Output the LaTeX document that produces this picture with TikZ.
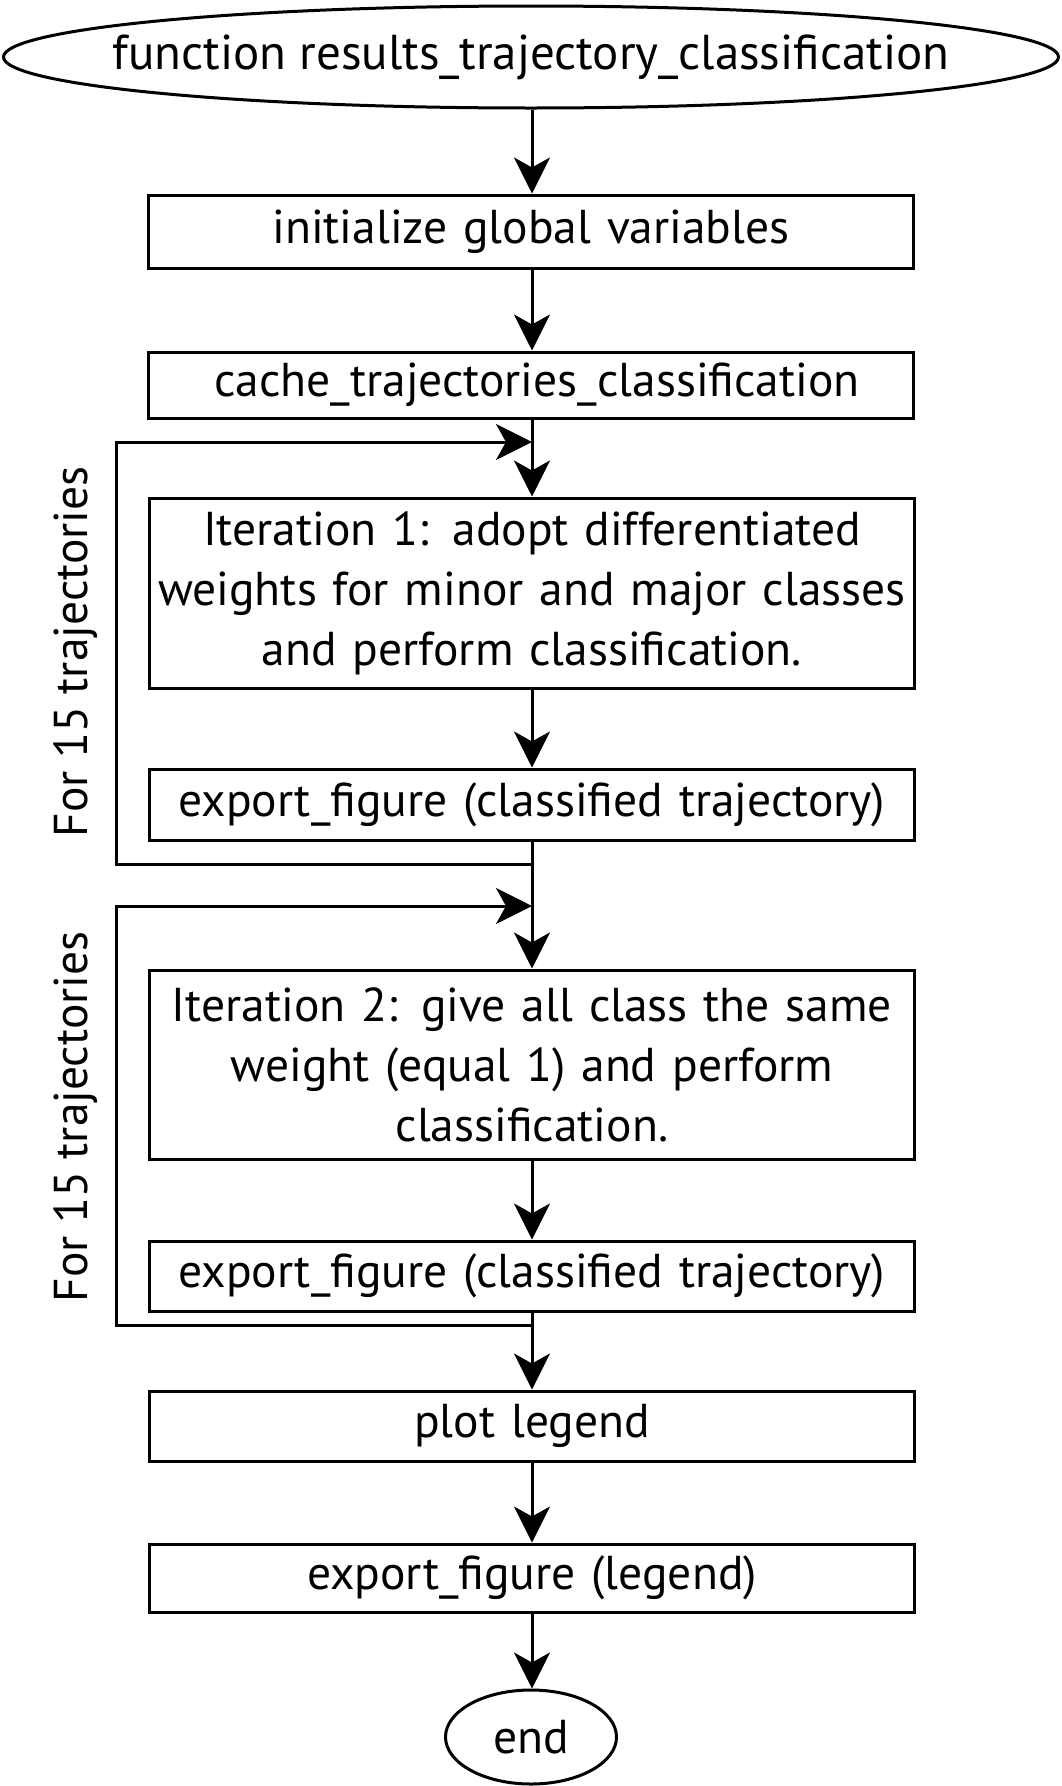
\documentclass[tikz,border=0pt]{standalone}
\usepackage{fontspec}
\setmainfont{PT Sans}
\usetikzlibrary{shapes.geometric,arrows.meta}
\begin{document}
\begin{tikzpicture}[x=1pt,y=-1pt,
  every node/.style={font=\fontsize{47.5}{60}\selectfont},
  box/.style={draw,line width=3pt,rectangle,minimum width=765pt,inner sep=0pt,align=center,text width=755pt},
  oval/.style={draw,line width=3pt,ellipse,inner sep=0pt},
  arr/.style={line width=3pt,-{Stealth[length=36pt,width=36pt,inset=10pt]}},
  ln/.style={line width=3pt}]
\useasboundingbox (0,0) rectangle (1061,1786);
\node[oval,minimum width=1055pt,minimum height=102pt,font=\fontsize{49}{60}\selectfont] (start) at (531,57) {\makebox[0pt]{function results\_trajectory\_classification}};
\node[box,minimum height=73pt] (b1) at (531,231.5) {initialize global variables};
\node[box,minimum height=66pt] (b2) at (531,385) {\hspace*{12pt}cache\_trajectories\_classification};
\node[box,minimum height=190pt] (b3) at (532,593) {Iteration 1: adopt differentiated\\weights for minor and major classes\\and perform classification.};
\node[box,minimum height=71pt] (b4) at (532,804.5) {export\_figure (classified trajectory)};
\node[box,minimum height=189pt] (b5) at (532,1064.5) {Iteration 2: give all class the same\\weight (equal 1) and perform\\classification.};
\node[box,minimum height=70pt] (b6) at (532,1276) {export\_figure (classified trajectory)};
\node[box,minimum height=70pt] (b7) at (532,1426) {plot legend};
\node[box,minimum height=68pt] (b8) at (532,1578) {export\_figure (legend)};
\node[oval,minimum width=171pt,minimum height=94pt] (end) at (531,1737) {\makebox[0pt]{end}};
\node[rotate=90] (lab1) at (76,652) {For 15 trajectories};
\node[rotate=90] (lab2) at (76,1117) {For 15 trajectories};
\coordinate (j1) at (532,442);
\coordinate (j1l) at (116,442);
\coordinate (k1) at (532,864);
\coordinate (k1l) at (116,864);
\coordinate (j2) at (532,906);
\coordinate (j2l) at (116,906);
\coordinate (k2) at (532,1325);
\coordinate (k2l) at (116,1325);
\draw[arr] (start.south -| j1) -- (b1.north -| j1);
\draw[arr] (b1.south -| j1) -- (b2.north -| j1);
\draw[arr] (b2.south -| j1) -- (b3.north);
\draw[arr] (b3.south) -- (b4.north);
\draw[arr] (b4.south) -- (b5.north);
\draw[arr] (b5.south) -- (b6.north);
\draw[arr] (b6.south) -- (b7.north);
\draw[arr] (b7.south) -- (b8.north);
\draw[arr] (b8.south) -- (end.north -| b8.south);
\draw[arr,line join=miter] (k1) -- (k1l) -- (j1l) -- (j1);
\draw[arr,line join=miter] (k2) -- (k2l) -- (j2l) -- (j2);
\end{tikzpicture}
\end{document}
